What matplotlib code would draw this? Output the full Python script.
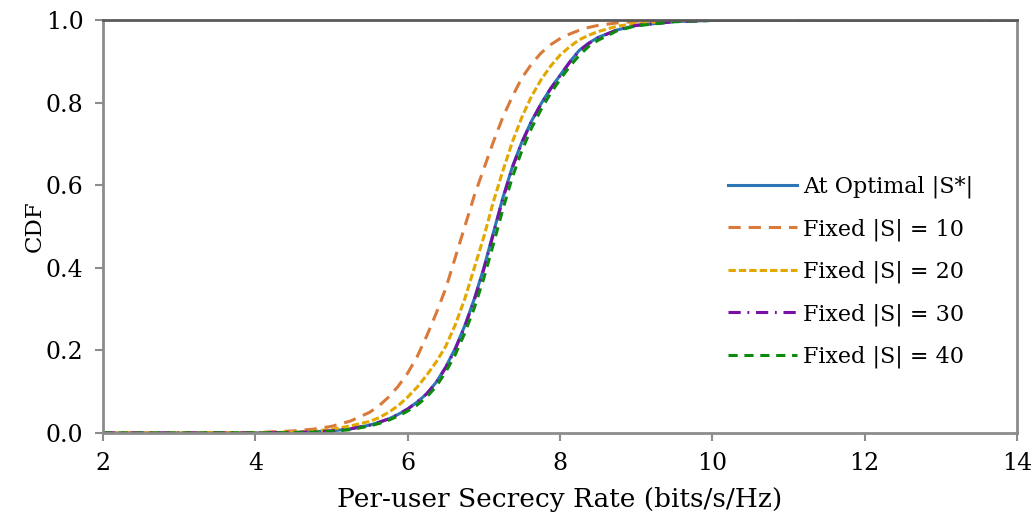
import matplotlib
matplotlib.use("Agg")
import matplotlib.pyplot as plt

# Data
x_vals = [2, 3, 4, 4.5, 4.75, 5, 5.25,
          5.5, 5.625, 5.75, 5.875, 6, 6.125, 6.25, 6.375, 6.5, 6.625, 6.75, 6.875,
          7, 7.125, 7.25, 7.375, 7.5, 7.625, 7.75, 7.875, 8, 8.125, 8.25, 8.375, 8.5,
          8.75, 9, 9.5, 10, 10.5, 11, 12, 13, 14]

cdf_optimal = [0, 0, 0.0003, 0.001, 0.003, 0.005, 0.010,
               0.019, 0.026, 0.034, 0.045, 0.058, 0.075, 0.095, 0.123, 0.16, 0.205,
               0.26, 0.325, 0.40, 0.485, 0.57, 0.645, 0.705, 0.755, 0.797, 0.834,
               0.866, 0.898, 0.926, 0.944, 0.958,
               0.976, 0.987, 0.996, 0.999, 1, 1, 1, 1, 1]
cdf_s10 = [0, 0, 0.001, 0.005, 0.009, 0.016, 0.029,
           0.050, 0.066, 0.087, 0.113, 0.145, 0.185, 0.235, 0.29, 0.35, 0.425,
           0.50, 0.575, 0.64, 0.705, 0.765, 0.815, 0.86, 0.893, 0.92, 0.94,
           0.955, 0.966, 0.975, 0.982, 0.987,
           0.993, 0.997, 0.999, 1, 1, 1, 1, 1, 1]
cdf_s20 = [0, 0, 0.0005, 0.002, 0.004, 0.009, 0.017,
           0.028, 0.037, 0.050, 0.066, 0.087, 0.111, 0.14, 0.172, 0.21, 0.262,
           0.325, 0.40, 0.475, 0.56, 0.635, 0.705, 0.765, 0.815, 0.855, 0.888,
           0.915, 0.935, 0.952, 0.963, 0.972,
           0.985, 0.992, 0.998, 1, 1, 1, 1, 1, 1]
cdf_s30 = [0, 0, 0.0003, 0.001, 0.003, 0.005, 0.010,
           0.019, 0.026, 0.034, 0.045, 0.058, 0.075, 0.095, 0.122, 0.158, 0.203,
           0.258, 0.322, 0.397, 0.482, 0.567, 0.643, 0.703, 0.754, 0.796, 0.833,
           0.865, 0.897, 0.925, 0.943, 0.957,
           0.976, 0.987, 0.996, 0.999, 1, 1, 1, 1, 1]
cdf_s40 = [0, 0, 0.0003, 0.001, 0.002, 0.004, 0.008,
           0.017, 0.023, 0.031, 0.041, 0.053, 0.068, 0.087, 0.113, 0.148, 0.19,
           0.242, 0.303, 0.375, 0.457, 0.542, 0.62, 0.684, 0.738, 0.783, 0.822,
           0.856, 0.887, 0.914, 0.936, 0.951,
           0.974, 0.986, 0.996, 0.999, 1, 1, 1, 1, 1]

labels = ["At Optimal |S*|", "Fixed |S| = 10", "Fixed |S| = 20",
          "Fixed |S| = 30", "Fixed |S| = 40"]
x_ticks = [2, 4, 6, 8, 10, 12, 14]
y_ticks = [0.0, 0.2, 0.4, 0.6, 0.8, 1.0]

plt.rcParams['font.family'] = ['DejaVu Serif']

fig = plt.figure(figsize=(10.34, 5.24), dpi=100)
ax = fig.add_axes([0.0996, 0.1737, 0.8840, 0.7881])

lw = 2.2
ax.plot(x_vals, cdf_optimal, color='#2E75B6', lw=lw, ls='-', label=labels[0])
ax.plot(x_vals, cdf_s10, color='#DA7A3A', lw=lw, ls=(0, (4.0, 2.6)), label=labels[1])
ax.plot(x_vals, cdf_s20, color='#E2A800', lw=lw, ls=(0, (2.4, 1.0)), label=labels[2])
ax.plot(x_vals, cdf_s30, color='#7A0FA6', lw=lw, ls=(0, (4.0, 2.2, 0.6, 2.2)), label=labels[3])
ax.plot(x_vals, cdf_s40, color='#0B8A0B', lw=lw, ls=(0, (3.0, 2.2)), label=labels[4])

ax.set_xlim(2, 14)
ax.set_ylim(0, 1)
ax.set_xticks(x_ticks)
ax.set_yticks(y_ticks)
ax.set_yticklabels([f"{v:.1f}" for v in y_ticks])

for s in ax.spines.values():
    s.set_color('#8C8C8C')
    s.set_linewidth(2)
ax.spines['top'].set_color('#5A5A5A')

ax.tick_params(axis='both', direction='out', length=6, width=1.5, color='#8C8C8C',
               labelsize=17, pad=8)

ax.set_xlabel("Per-user Secrecy Rate (bits/s/Hz)", fontsize=19, labelpad=8)
ax.set_ylabel("CDF", fontsize=16.5, labelpad=0)

leg = ax.legend(loc='center left', bbox_to_anchor=(0.684, 0.39), frameon=False,
                fontsize=16, handlelength=3.1, handletextpad=0.25, labelspacing=0.9,
                borderpad=0, borderaxespad=0)

fig.savefig("out.png", dpi=100)
